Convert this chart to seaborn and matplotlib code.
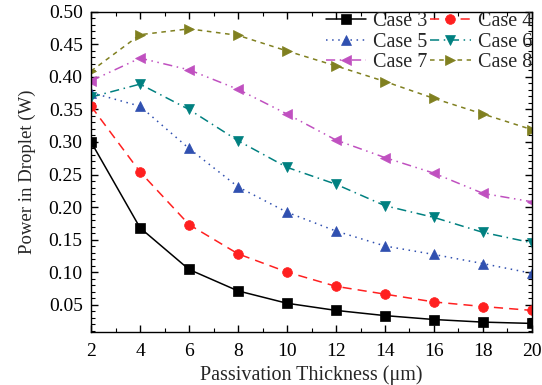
import matplotlib
matplotlib.use("Agg")
import matplotlib.pyplot as plt
import seaborn as sns
import pandas as pd
from matplotlib.ticker import MultipleLocator

thickness = [2, 4, 6, 8, 10, 12, 14, 16, 18, 20]
case3 = [0.300, 0.168, 0.104, 0.071, 0.052, 0.041, 0.033, 0.027, 0.023, 0.021]
case4 = [0.355, 0.254, 0.173, 0.128, 0.100, 0.078, 0.066, 0.054, 0.047, 0.041]
case5 = [0.376, 0.355, 0.290, 0.231, 0.192, 0.163, 0.140, 0.127, 0.113, 0.098]
case6 = [0.369, 0.389, 0.350, 0.302, 0.261, 0.235, 0.202, 0.184, 0.161, 0.145]
case7 = [0.394, 0.429, 0.411, 0.381, 0.343, 0.303, 0.276, 0.252, 0.221, 0.208]
case8 = [0.409, 0.465, 0.474, 0.464, 0.440, 0.417, 0.393, 0.367, 0.343, 0.319]
labels = ["Case 3", "Case 4", "Case 5", "Case 6", "Case 7", "Case 8"]

series = [case3, case4, case5, case6, case7, case8]
colors = ["#000000", "#FF2020", "#3050B0", "#008080", "#C050C0", "#808020"]
styles = ["-", (0, (6, 4)), (0, (1, 3)), (0, (6, 3, 1, 3)), (0, (6, 3, 1, 3, 1, 3)), (0, (3, 3))]
markers = ["s", "o", "^", "v", "<", ">"]

sns.set_style("ticks")
plt.rcParams["font.family"] = ["Liberation Serif", "DejaVu Serif"]

fig = plt.figure(figsize=(5.42, 3.85), dpi=100)
ax = fig.add_axes([0.168, 0.138, 0.8135, 0.831])

for lab, vals, c, ls, m in zip(labels, series, colors, styles, markers):
    df = pd.DataFrame({"x": thickness, "y": vals})
    sns.lineplot(data=df, x="x", y="y", ax=ax, color=c, linestyle=ls, marker=m,
                 markersize=7, markeredgewidth=0.5, markeredgecolor=c, linewidth=1.1,
                 label=lab)

ax.set_xlim(2, 20)
ax.set_ylim(0.008, 0.50)
ax.xaxis.set_major_locator(MultipleLocator(2))
ax.xaxis.set_minor_locator(MultipleLocator(1))
ax.yaxis.set_minor_locator(MultipleLocator(0.01))
ax.set_yticks([0.05, 0.10, 0.15, 0.20, 0.25, 0.30, 0.35, 0.40, 0.45, 0.50])
ax.yaxis.set_major_formatter(matplotlib.ticker.FormatStrFormatter("%.2f"))
ax.tick_params(which="both", direction="in", top=True, right=True, labelsize=14, colors="black")
ax.tick_params(which="major", length=5, width=1)
ax.tick_params(which="minor", length=3, width=0.8)
ax.tick_params(axis="y", which="major", pad=6)
ax.tick_params(axis="x", which="major", pad=8)
for s in ax.spines.values():
    s.set_visible(True)
    s.set_linewidth(1.0)
    s.set_color("black")

ax.set_xlabel("Passivation Thickness (μm)", fontsize=14.5, labelpad=4)
ax.set_ylabel("Power in Droplet (W)", fontsize=13.5, labelpad=9)

h, l = ax.get_legend_handles_labels()
order = [0, 2, 4, 1, 3, 5]
ax.legend([h[i] for i in order], [l[i] for i in order], ncol=2, loc="upper right",
          frameon=False, fontsize=14.5, handlelength=2.0, handletextpad=0.35,
          columnspacing=0.15, labelspacing=0.08, borderaxespad=0.0, borderpad=0.0)

fig.savefig("out.png", dpi=100)
